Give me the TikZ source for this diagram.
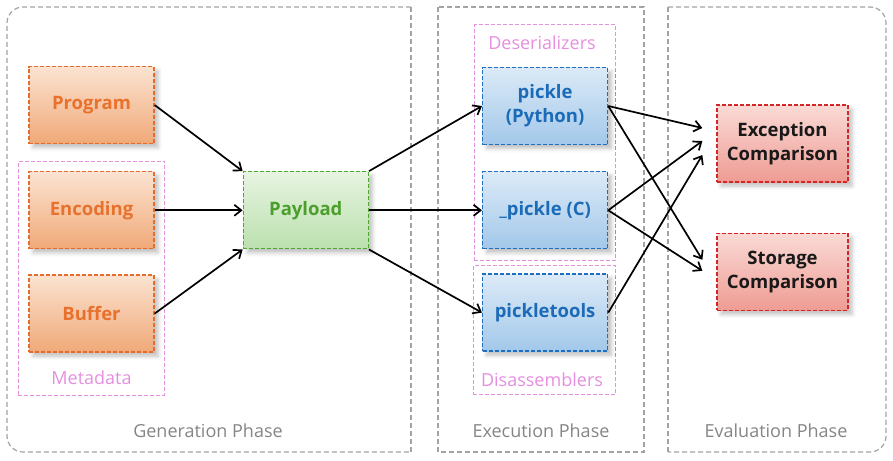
\documentclass[tikz,border=0pt]{standalone}
\usepackage{fontspec}
\setmainfont{Open Sans}
\usetikzlibrary{positioning,arrows.meta,shadows.blur,fit,backgrounds}
\definecolor{inTop}{HTML}{FBE3D1}
\definecolor{inBot}{HTML}{F0A978}
\definecolor{inLine}{HTML}{E46C2C}
\definecolor{inText}{HTML}{E8712D}
\definecolor{payTop}{HTML}{E7F4E1}
\definecolor{payBot}{HTML}{BBE0AE}
\definecolor{payLine}{HTML}{4EA830}
\definecolor{payText}{HTML}{4C9F2D}
\definecolor{runTop}{HTML}{DCEAF7}
\definecolor{runBot}{HTML}{A3C8EA}
\definecolor{runLine}{HTML}{1F6FC0}
\definecolor{runText}{HTML}{1C6BB8}
\definecolor{evTop}{HTML}{FADAD6}
\definecolor{evBot}{HTML}{EE9C93}
\definecolor{evLine}{HTML}{D42626}
\definecolor{grpColor}{HTML}{E58FDF}
\definecolor{phaseColor}{HTML}{A3A3A3}
\definecolor{phaseText}{HTML}{858585}
\newcommand{\boxfont}{\fontsize{18.5}{24}\selectfont\bfseries}
\newcommand{\lblfont}{\fontsize{18}{20}\selectfont}

\begin{document}
\begin{tikzpicture}[x=1pt, y=-1pt,
    stage/.style={draw, line width=1.3pt, dash pattern=on 4pt off 2pt, minimum width=125pt, minimum height=77pt, align=center, font=\boxfont,
      blur shadow={shadow xshift=4pt, shadow yshift=-4pt, shadow blur radius=4pt, shadow opacity=25}},
    input/.style={stage, draw=inLine, top color=inTop, bottom color=inBot, text=inText},
    payload/.style={stage, draw=payLine, top color=payTop, bottom color=payBot, text=payText},
    runner/.style={stage, draw=runLine, top color=runTop, bottom color=runBot, text=runText},
    verdict/.style={stage, minimum width=131pt, draw=evLine, top color=evTop, bottom color=evBot, text=black!90},
    grp/.style={draw=grpColor, line width=1pt, dash pattern=on 4pt off 2pt},
    grplbl/.style={inner sep=0pt, text=grpColor, font=\lblfont},
    phase/.style={draw=phaseColor, line width=1.2pt, dash pattern=on 5pt off 3pt},
    phaselbl/.style={inner sep=0pt, text=phaseText, font=\lblfont},
    arr/.style={-{Straight Barb[length=7pt, width=11pt]}, line width=1.7pt, black},
    node distance=26pt
  ]
  \useasboundingbox (0,0) rectangle (893,460);

  % phases
  \draw[phase, rounded corners=16pt] (411,7) -- (7,7) -- (7,452) -- (411,452);
  \draw[phase] (411,7) -- (411,452);
  \draw[phase] (438,7) rectangle (644,452);
  \draw[phase, rounded corners=16pt] (668,7) -- (886,7) -- (886,452) -- (668,452);
  \draw[phase] (668,7) -- (668,452);
  \node[phaselbl] (genlbl) at (208,431) {Generation Phase};
  \node[phaselbl] (exelbl) at (541,431) {Execution Phase};
  \node[phaselbl] (evallbl) at (776,431) {Evaluation Phase};

  % generation
  \node[input] (prog) at (91.5,105) {Program};
  \node[input, below=27pt of prog] (enc) {Encoding};
  \node[input, below=25pt of enc] (buf) {Buffer};
  \node[payload, right=88pt of enc] (pay) {Payload};

  % execution
  \node[runner, right=113pt of pay] (cpk) {\_pickle (C)};
  \node[runner, above=of cpk] (pyk) {pickle\\(Python)};
  \node[runner, below=24pt of cpk] (tools) {pickletools};

  % evaluation
  \node[verdict] (exc) at (782.5,143.5) {Exception\\Comparison};
  \node[verdict, below=50pt of exc] (sto) {Storage\\Comparison};

  % groups
  \node[grplbl] (metalbl) at (91.5,378) {Metadata};
  \node[grplbl] (deslbl) at (542,43) {Deserializers};
  \node[grplbl] (dislbl) at (542,380) {Disassemblers};
  \begin{scope}[on background layer]
    \node[grp, fit=(enc)(buf)(metalbl), inner xsep=10pt, inner ysep=10pt] (meta) {};
    \node[grp, fit=(deslbl)(pyk)(cpk), inner xsep=7.5pt, inner ysep=11pt] (deser) {};
    \node[grp, fit=(tools)(dislbl), inner xsep=7.5pt, inner ysep=7.5pt] (disas) {};
  \end{scope}

  % connectors
  \draw[arr] (prog.east) -- (pay.north west);
  \draw[arr] (enc.east) -- (pay.west);
  \draw[arr] (buf.east) -- (pay.south west);
  \draw[arr] (pay.north east) -- (pyk.west);
  \draw[arr] (pay.east) -- (cpk.west);
  \draw[arr] (pay.south east) -- (tools.west);
  \draw[arr] (pyk.east) -- ([xshift=-14pt, yshift=15.5pt]exc.west);
  \draw[arr] (cpk.east) -- ([xshift=-14pt, yshift=2.5pt]exc.west);
  \draw[arr] (tools.east) -- ([xshift=-14pt, yshift=-11.5pt]exc.west);
  \draw[arr] (pyk.east) -- ([xshift=-14pt, yshift=12pt]sto.west);
  \draw[arr] (cpk.east) -- ([xshift=-14pt, yshift=1pt]sto.west);
\end{tikzpicture}
\end{document}
